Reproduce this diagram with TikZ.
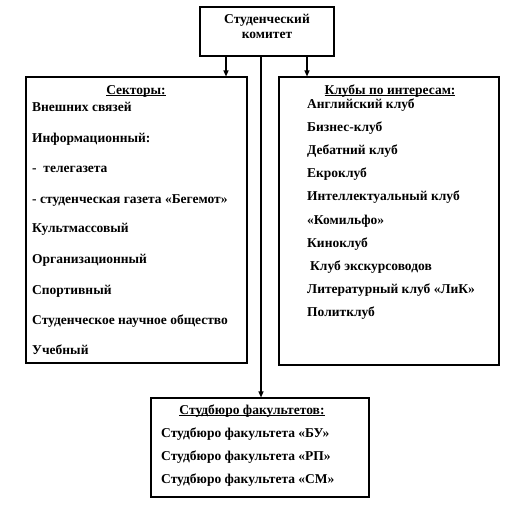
\documentclass[tikz,border=0pt]{standalone}
\usepackage{fontspec}
\setmainfont{Liberation Serif}
\usetikzlibrary{arrows.meta}
\newcommand\hul[1]{\setbox0\hbox{#1}\rlap{\rule[-2pt]{\wd0}{0.8pt}}\box0}
\begin{document}
\begin{tikzpicture}[x=1pt,y=-1pt,
  box/.style={draw, line width=1.1pt, inner sep=0pt},
  txt/.style={anchor=base west, inner sep=0pt, font=\fontsize{13.5}{15}\selectfont\bfseries},
  hdr/.style={anchor=base, inner sep=0pt, font=\fontsize{13.5}{15}\selectfont\bfseries},
  arr/.style={line width=1.1pt, -{Triangle[length=6pt,width=5pt]}}]
\useasboundingbox (0,0) rectangle (519,511);
% boxes
\node[box, minimum width=134pt, minimum height=49pt] (top) at (267,31.5) {};
\node[box, minimum width=221pt, minimum height=286pt] (left) at (136.5,220) {};
\node[box, minimum width=220pt, minimum height=288pt] (right) at (389,221) {};
\node[box, minimum width=218pt, minimum height=99pt] (bottom) at (260,447.5) {};
% connector coordinates
\coordinate (xl) at (226,0);
\coordinate (xr) at (307,0);
\coordinate (xc) at (261,0);
\draw[arr] (top.south -| xl) -- (left.north -| xl);
\draw[arr] (top.south -| xr) -- (right.north -| xr);
\draw[arr] (top.south -| xc) -- (bottom.north -| xc);
% top text
\node[hdr] (t1) at (267,24) {Студенческий};
\node[hdr] (t2) at (267,39) {комитет};
% left text
\node[hdr] (lh) at (136,94) {\hul{Секторы:}};
\node[txt] (l1) at (32,111) {Внешних связей};
\node[txt] (l2) at (32,142) {Информационный:};
\node[txt] (l3) at (32,172) {-\ \ телегазета};
\node[txt] (l4) at (32,203) {- студенческая газета «Бегемот»};
\node[txt] (l5) at (32,232) {Культмассовый};
\node[txt] (l6) at (32,263) {Организационный};
\node[txt] (l7) at (32,294) {Спортивный};
\node[txt] (l8) at (32,324) {Студенческое научное общество};
\node[txt] (l9) at (32,354) {Учебный};
% right text
\node[hdr] (rh) at (390,94) {\hul{Клубы по интересам:}};
\node[txt] (r1) at (307,108) {Английский клуб};
\node[txt] (r2) at (307,131) {Бизнес-клуб};
\node[txt] (r3) at (307,154) {Дебатний клуб};
\node[txt] (r4) at (307,177) {Екроклуб};
\node[txt] (r5) at (307,200) {Интеллектуальный клуб};
\node[txt] (r6) at (307,224) {«Комильфо»};
\node[txt] (r7) at (307,247) {Киноклуб};
\node[txt] (r8) at (310,270) {Клуб экскурсоводов};
\node[txt] (r9) at (307,293) {Литературный клуб «ЛиК»};
\node[txt] (r10) at (307,316) {Политклуб};
% bottom text
\node[hdr] (bh) at (252,414) {\hul{Студбюро факультетов:}};
\node[txt] (b1) at (161,437) {Студбюро факультета «БУ»};
\node[txt] (b2) at (161,460) {Студбюро факультета «РП»};
\node[txt] (b3) at (161,483) {Студбюро факультета «СМ»};
\end{tikzpicture}
\end{document}
